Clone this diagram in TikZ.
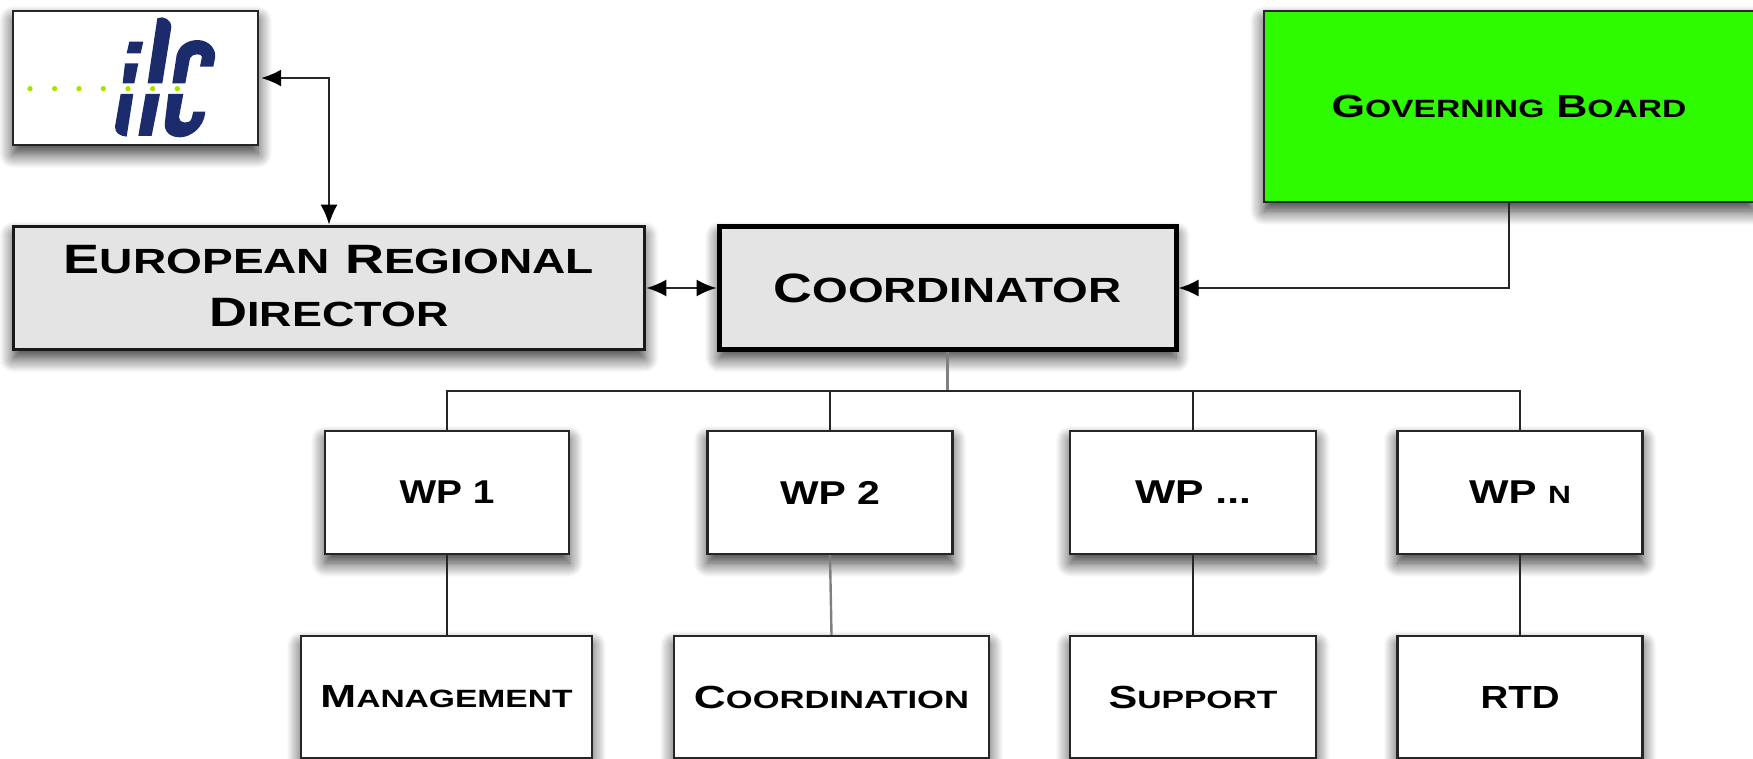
\documentclass[tikz,border=0pt]{standalone}
\usepackage{fontspec}
\usepackage{graphicx}
\setmainfont{Liberation Sans}
\usetikzlibrary{arrows.meta,shadows.blur}
\definecolor{ilcblue}{HTML}{1C2B6B}
\definecolor{ilcgreen}{HTML}{A6E400}
\definecolor{boardgreen}{HTML}{2EFA00}
\definecolor{softgray}{HTML}{E4E4E4}
% fake small caps: first letter large, rest smaller; everything fitted to a width
\newcommand{\cpfit}[2]{\resizebox{#1pt}{\height}{\bfseries #2}}
\newcommand{\sm}[2]{{\fontsize{#1}{#1}\selectfont\MakeUppercase{#2}}}
\tikzset{
  x=1pt,y=-1pt,
  softshadow/.style={blur shadow={shadow xshift=0pt,shadow yshift=-9pt,shadow blur radius=14pt,shadow blur steps=14,shadow opacity=80}},
  plainbox/.style={draw=black!85,line width=2.2pt,fill=white,inner sep=0pt,softshadow,align=center},
  leadbox/.style={plainbox,draw=black!90,fill=softgray,line width=3.6pt},
  coordbox/.style={plainbox,draw=black,fill=softgray,line width=5pt},
  conn/.style={line width=2pt,draw=black!85},
  grayconn/.style={line width=2.4pt,draw=black!50},
  headtip/.tip={Latex[length=20pt,width=17pt,color=black]},
  twoway/.style={conn,{headtip}-{headtip}},
  oneway/.style={conn,-{headtip}},
  logo/.style={fill=ilcblue,draw=none}
}
\begin{document}
\begin{tikzpicture}
\useasboundingbox (0,0) rectangle (1753,759);

% upper boxes
\node[plainbox,minimum width=245pt,minimum height=134pt] (ilc) at (135.5,78) {};
\node[leadbox,minimum width=631pt,minimum height=123pt] (erd) at (329,288) {};
\node[coordbox,minimum width=457pt,minimum height=123pt] (coord) at (947.5,288) {\cpfit{348}{\fontsize{41}{41}\selectfont C\sm{35}{oordinator}}};
\node[plainbox,fill=boardgreen,minimum width=490pt,minimum height=191pt] (gov) at (1509,106.5) {\cpfit{355}{\fontsize{32}{32}\selectfont G\sm{25}{overning} B\sm{25}{oard}}};
\node[inner sep=0pt] (erdline1) at (329,260) {\cpfit{530}{\fontsize{41}{41}\selectfont E\sm{35}{uropean} R\sm{35}{egional}}};
\node[inner sep=0pt] (erdline2) at (329,313) {\cpfit{239}{\fontsize{41}{41}\selectfont D\sm{35}{irector}}};

% work packages
\node[plainbox,minimum width=244pt,minimum height=123pt] (wp1) at (447,492.5) {\cpfit{95}{\fontsize{33}{33}\selectfont WP 1}};
\node[plainbox,minimum width=245pt,minimum height=123pt] (wp2) at (830,492.5) {\cpfit{100}{\fontsize{33}{33}\selectfont WP 2}};
\node[plainbox,minimum width=246pt,minimum height=123pt] (wp3) at (1193,492.5) {\cpfit{116}{\fontsize{33}{33}\selectfont WP ...}};
\node[plainbox,minimum width=245pt,minimum height=123pt] (wpn) at (1520,492.5) {\cpfit{102}{\fontsize{33}{33}\selectfont WP \sm{25}{n}}};

% lower boxes
\node[plainbox,minimum width=291pt,minimum height=122pt] (mgmt) at (446.5,697) {\cpfit{252}{\fontsize{32}{32}\selectfont M\sm{25}{anagement}}};
\node[plainbox,minimum width=315pt,minimum height=122pt] (cdn) at (831.5,697) {\cpfit{275}{\fontsize{32}{32}\selectfont C\sm{25}{oordination}}};
\node[plainbox,minimum width=246pt,minimum height=122pt] (sup) at (1193,697) {\cpfit{169}{\fontsize{32}{32}\selectfont S\sm{25}{upport}}};
\node[plainbox,minimum width=245pt,minimum height=122pt] (rtd) at (1520,697) {\cpfit{79}{\fontsize{32}{32}\selectfont RTD}};

% logo
\begin{scope}[x=0.3333pt,y=-0.3333pt]
\fill[logo] (388,125) -- (430,125) -- (422,160) -- (380,160) -- cycle;
\fill[logo] (375,190) -- (415,190) -- (403,250) -- (368,250) -- cycle;
\fill[logo] (362,282) -- (400,282) -- (380,410) .. controls (360,408) and (345,400) .. (345,380) -- cycle;
\fill[logo] (472,55) .. controls (490,45) and (515,60) .. (514,82) -- (487,250) -- (443,250) -- cycle;
\fill[logo] (437,282) -- (480,282) -- (455,408) -- (415,408) -- cycle;
\fill[logo] (517,250) -- (530,165) .. controls (540,130) and (570,120) .. (595,120) .. controls (630,122) and (650,150) .. (645,175) -- (640,200) -- (600,200) -- (606,170) .. controls (606,160) and (575,160) .. (570,175) -- (556,250) -- cycle;
\fill[logo] (505,282) -- (550,282) -- (537,352) .. controls (535,370) and (570,375) .. (575,355) -- (580,335) -- (616,335) .. controls (612,385) and (570,412) .. (540,412) .. controls (510,412) and (490,395) .. (495,365) -- cycle;
\foreach \dx in {90,164,237,310,384,458,532}
  \fill[ilcgreen] (\dx,266) circle (8);
\end{scope}

% connectors
\coordinate (bus) at (947.5,391);
\draw[twoway,shorten <=2pt] (ilc.east) -| (erd.north);
\draw[twoway] (erd.east) -- (coord.west);
\draw[oneway] (gov.south) |- (coord.east);
\draw[grayconn] (coord.south) -- (bus);
\draw[conn] (wp1.north) |- (bus) -| (wpn.north);
\draw[conn] (wp2.north) -- (wp2.north |- bus);
\draw[conn] (wp3.north) -- (wp3.north |- bus);
\draw[conn] (wp1.south) -- (mgmt.north -| wp1.south);
\draw[grayconn] (wp2.south) -- (cdn.north);
\draw[conn] (wp3.south) -- (sup.north);
\draw[conn] (wpn.south) -- (rtd.north);
\end{tikzpicture}
\end{document}
